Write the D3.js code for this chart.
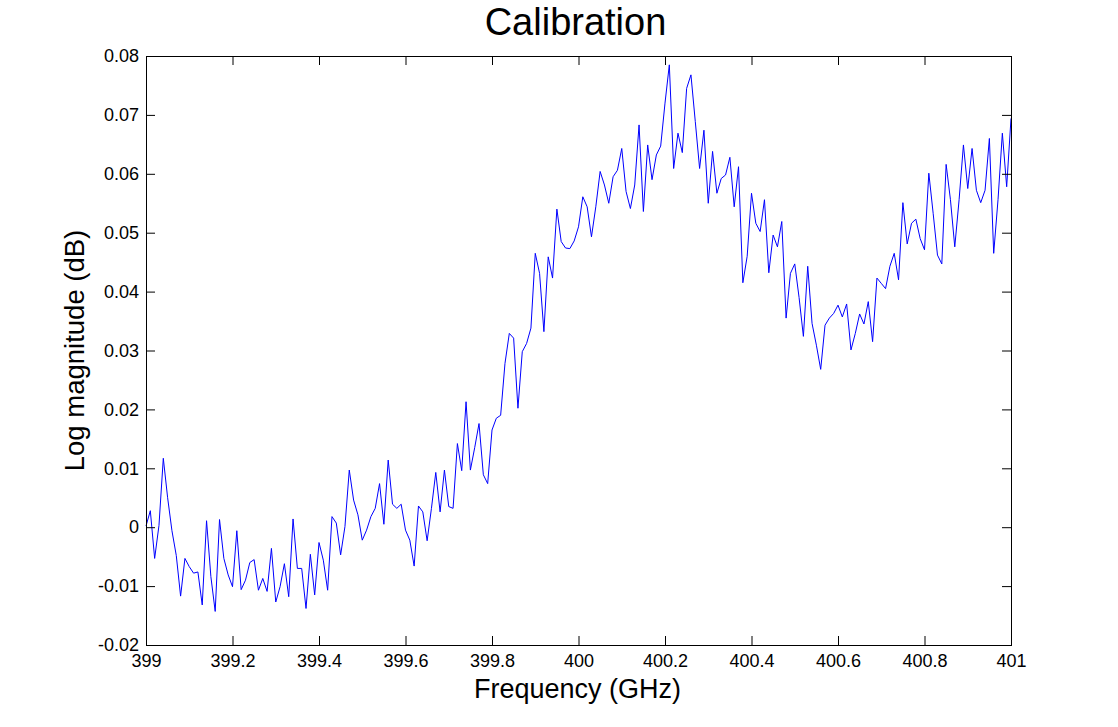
<!DOCTYPE html>
<html>
<head>
<meta charset="utf-8">
<script src="https://cdn.jsdelivr.net/npm/d3@7"></script>
<style>
  html, body { margin: 0; padding: 0; background: #fff; }
  svg { display: block; }
  text { font-family: "Liberation Sans", Arial, Helvetica, sans-serif; fill: #000; }
</style>
</head>
<body>
<svg id="chart" width="1118" height="727"></svg>
<script>
// ---- data ----
const titleText = "Calibration";
const xLabelText = "Frequency (GHz)";
const yLabelText = "Log magnitude (dB)";

const freqStart = 399;      // GHz
const freqStep = 0.01;      // GHz sweep step

const logMag = [
  0.0002, 0.0028, -0.0053, 0.0003, 0.0117, 0.0050, -0.0006, -0.0048, -0.0117, -0.0053,
  -0.0067, -0.0078, -0.0076, -0.0132, 0.0011, -0.0084, -0.0143, 0.0013, -0.0053, -0.0081,
  -0.0101, -0.0006, -0.0106, -0.0090, -0.0060, -0.0055, -0.0107, -0.0087, -0.0109, -0.0036,
  -0.0127, -0.0101, -0.0062, -0.0118, 0.0014, -0.0070, -0.0070, -0.0138, -0.0046, -0.0115,
  -0.0026, -0.0056, -0.0107, 0.0018, 0.0007, -0.0047, 0.0001, 0.0097, 0.0046, 0.0021,
  -0.0022, -0.0005, 0.0018, 0.0032, 0.0074, 0.0005, 0.0114, 0.0039, 0.0032, 0.0039,
  -0.0005, -0.0022, -0.0066, 0.0036, 0.0026, -0.0023, 0.0032, 0.0093, 0.0026, 0.0097,
  0.0035, 0.0032, 0.0142, 0.0096, 0.0213, 0.0097, 0.0135, 0.0176, 0.0089, 0.0074,
  0.0165, 0.0185, 0.0190, 0.0278, 0.0329, 0.0321, 0.0202, 0.0298, 0.0312, 0.0338,
  0.0465, 0.0431, 0.0332, 0.0459, 0.0423, 0.0540, 0.0485, 0.0474, 0.0473, 0.0486,
  0.0510, 0.0561, 0.0544, 0.0493, 0.0544, 0.0604, 0.0581, 0.0550, 0.0595, 0.0606,
  0.0643, 0.0570, 0.0541, 0.0581, 0.0683, 0.0536, 0.0649, 0.0590, 0.0632, 0.0647,
  0.0720, 0.0785, 0.0609, 0.0669, 0.0636, 0.0745, 0.0768, 0.0689, 0.0609, 0.0674,
  0.0550, 0.0638, 0.0567, 0.0592, 0.0598, 0.0628, 0.0544, 0.0612, 0.0415, 0.0460,
  0.0567, 0.0516, 0.0502, 0.0556, 0.0432, 0.0496, 0.0476, 0.0519, 0.0355, 0.0431,
  0.0447, 0.0390, 0.0324, 0.0443, 0.0346, 0.0309, 0.0268, 0.0343, 0.0355, 0.0363,
  0.0377, 0.0357, 0.0379, 0.0301, 0.0329, 0.0362, 0.0345, 0.0383, 0.0315, 0.0423,
  0.0414, 0.0405, 0.0443, 0.0465, 0.0420, 0.0551, 0.0481, 0.0516, 0.0523, 0.0490,
  0.0471, 0.0601, 0.0533, 0.0462, 0.0447, 0.0616, 0.0556, 0.0476, 0.0556, 0.0649,
  0.0575, 0.0643, 0.0572, 0.0551, 0.0572, 0.0660, 0.0465, 0.0556, 0.0669, 0.0578,
  0.0694
];

const xTicks = [399, 399.2, 399.4, 399.6, 399.8, 400, 400.2, 400.4, 400.6, 400.8, 401];
const xTickLabels = ["399", "399.2", "399.4", "399.6", "399.8", "400", "400.2", "400.4", "400.6", "400.8", "401"];
const yTicks = [-0.02, -0.01, 0, 0.01, 0.02, 0.03, 0.04, 0.05, 0.06, 0.07, 0.08];
const yTickLabels = ["-0.02", "-0.01", "0", "0.01", "0.02", "0.03", "0.04", "0.05", "0.06", "0.07", "0.08"];

// ---- layout ----
const W = 1118, H = 727;
const margin = { left: 146, top: 56, right: 107, bottom: 82 };
const iw = W - margin.left - margin.right;
const ih = H - margin.top - margin.bottom;
const tickLen = 9;

const svg = d3.select("#chart");
const g = svg.append("g").attr("transform", `translate(${margin.left},${margin.top})`);

const x = d3.scaleLinear().domain([399, 401]).range([0, iw]);
const y = d3.scaleLinear().domain([-0.02, 0.08]).range([ih, 0]);

const points = logMag.map((v, i) => ({ f: freqStart + i * freqStep, v }));

// plot background
g.append("rect").attr("x", 0).attr("y", 0).attr("width", iw).attr("height", ih)
  .attr("fill", "#fff");

// data line
g.append("path")
  .datum(points)
  .attr("fill", "none")
  .attr("stroke", "#0000ff")
  .attr("stroke-width", 1)
  .attr("stroke-linejoin", "miter")
  .attr("d", d3.line().x(d => x(d.f)).y(d => y(d.v)));

const xFmt = d => xTickLabels[xTicks.indexOf(d)];
const yFmt = d => yTickLabels[yTicks.indexOf(d)];

function styleAxis(sel) {
  sel.select(".domain").remove();
  sel.selectAll(".tick line").attr("stroke", "#000").attr("stroke-width", 1);
  sel.selectAll(".tick text").attr("font-size", 18).attr("fill", "#000")
    .attr("font-family", '"Liberation Sans", Arial, Helvetica, sans-serif');
}

// bottom axis (inward ticks)
g.append("g").attr("transform", `translate(0,${ih})`)
  .call(d3.axisBottom(x).tickValues(xTicks).tickFormat(xFmt).tickSizeInner(-tickLen).tickSizeOuter(0).tickPadding(9))
  .call(styleAxis);
// top axis ticks
g.append("g")
  .call(d3.axisTop(x).tickValues(xTicks).tickFormat("").tickSizeInner(-tickLen).tickSizeOuter(0))
  .call(styleAxis);
// left axis
g.append("g")
  .call(d3.axisLeft(y).tickValues(yTicks).tickFormat(yFmt).tickSizeInner(-tickLen).tickSizeOuter(0).tickPadding(7))
  .call(styleAxis);
// right axis ticks
g.append("g").attr("transform", `translate(${iw},0)`)
  .call(d3.axisRight(y).tickValues(yTicks).tickFormat("").tickSizeInner(-tickLen).tickSizeOuter(0))
  .call(styleAxis);

// frame
g.append("rect").attr("x", 0).attr("y", 0).attr("width", iw).attr("height", ih)
  .attr("fill", "none").attr("stroke", "#000").attr("stroke-width", 1)
  .attr("shape-rendering", "crispEdges");

// title
svg.append("text")
  .attr("x", margin.left + iw / 2 - 3).attr("y", 35)
  .attr("text-anchor", "middle").attr("font-size", 38)
  .text(titleText);

// x label
svg.append("text")
  .attr("x", margin.left + iw / 2 - 1).attr("y", 698)
  .attr("text-anchor", "middle").attr("font-size", 27)
  .text(xLabelText);

// y label
svg.append("text")
  .attr("transform", `translate(84,${margin.top + ih / 2}) rotate(-90)`)
  .attr("text-anchor", "middle").attr("font-size", 27.5)
  .text(yLabelText);
</script>
</body>
</html>
